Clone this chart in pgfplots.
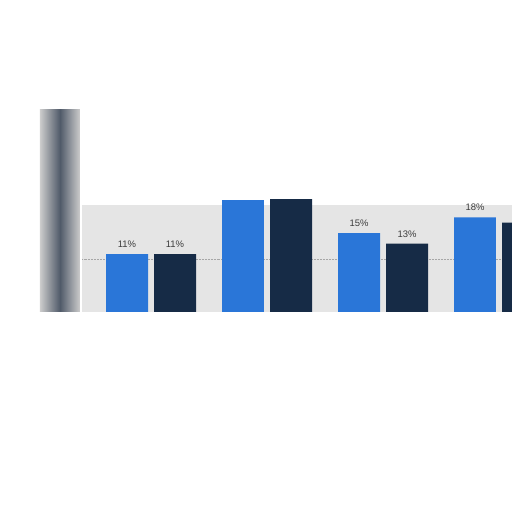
\documentclass[border=0pt]{standalone}
\usepackage{pgfplots}
\pgfplotsset{compat=1.18}
\usepackage{fontspec}
\setmainfont{Liberation Sans}
\definecolor{cblue}{RGB}{42,118,216}
\definecolor{cnavy}{RGB}{22,43,70}
\definecolor{cslate}{RGB}{80,90,105}
\definecolor{lbl}{RGB}{60,60,60}
\begin{document}
\begin{tikzpicture}
\begin{axis}[
  scale only axis, width=512bp, height=512bp,
  xmin=-1.302, xmax=3.112,
  ymin=-38.1, ymax=59.4,
  axis x line=none, axis y line=none,
  xtick=\empty, ytick=\empty,
  clip=true,
  /pgf/number format/assume math mode=true,
  every node near coord/.style={font=\fontsize{9.5}{10}\selectfont, text=lbl, yshift=3pt},
]
\path (rel axis cs:0,0) rectangle (rel axis cs:1,1);
% light gray background band
\addplot[fill=gray!20, draw=none] coordinates {(-0.595,20.4) (3.2,20.4)} \closedcycle;
% dotted gridline at 10%
\addplot[densely dotted, gray!70, line width=0.5pt] coordinates {(-0.595,10) (3.2,10)};
% left gray column
\addplot[ybar, bar width=0.345, bar shift=0pt, draw=none, left color=gray!40, right color=gray!40, middle color=cslate] coordinates {(-0.785,38.5)};
% labelled bars
\addplot[ybar, bar width=0.362, bar shift=0pt, fill=cblue, draw=none,
  nodes near coords={\pgfmathprintnumber{\pgfplotspointmeta}\%}] coordinates {(-0.207,11) (1.793,15) (2.793,18)};
\addplot[ybar, bar width=0.362, bar shift=0pt, fill=cnavy, draw=none,
  nodes near coords={\pgfmathprintnumber{\pgfplotspointmeta}\%}] coordinates {(0.207,11) (2.207,13)};
% unlabelled bars
\addplot[ybar, bar width=0.362, bar shift=0pt, fill=cblue, draw=none] coordinates {(0.793,21.3)};
\addplot[ybar, bar width=0.362, bar shift=0pt, fill=cnavy, draw=none] coordinates {(1.207,21.5) (3.207,17)};
\end{axis}
\end{tikzpicture}
\end{document}
